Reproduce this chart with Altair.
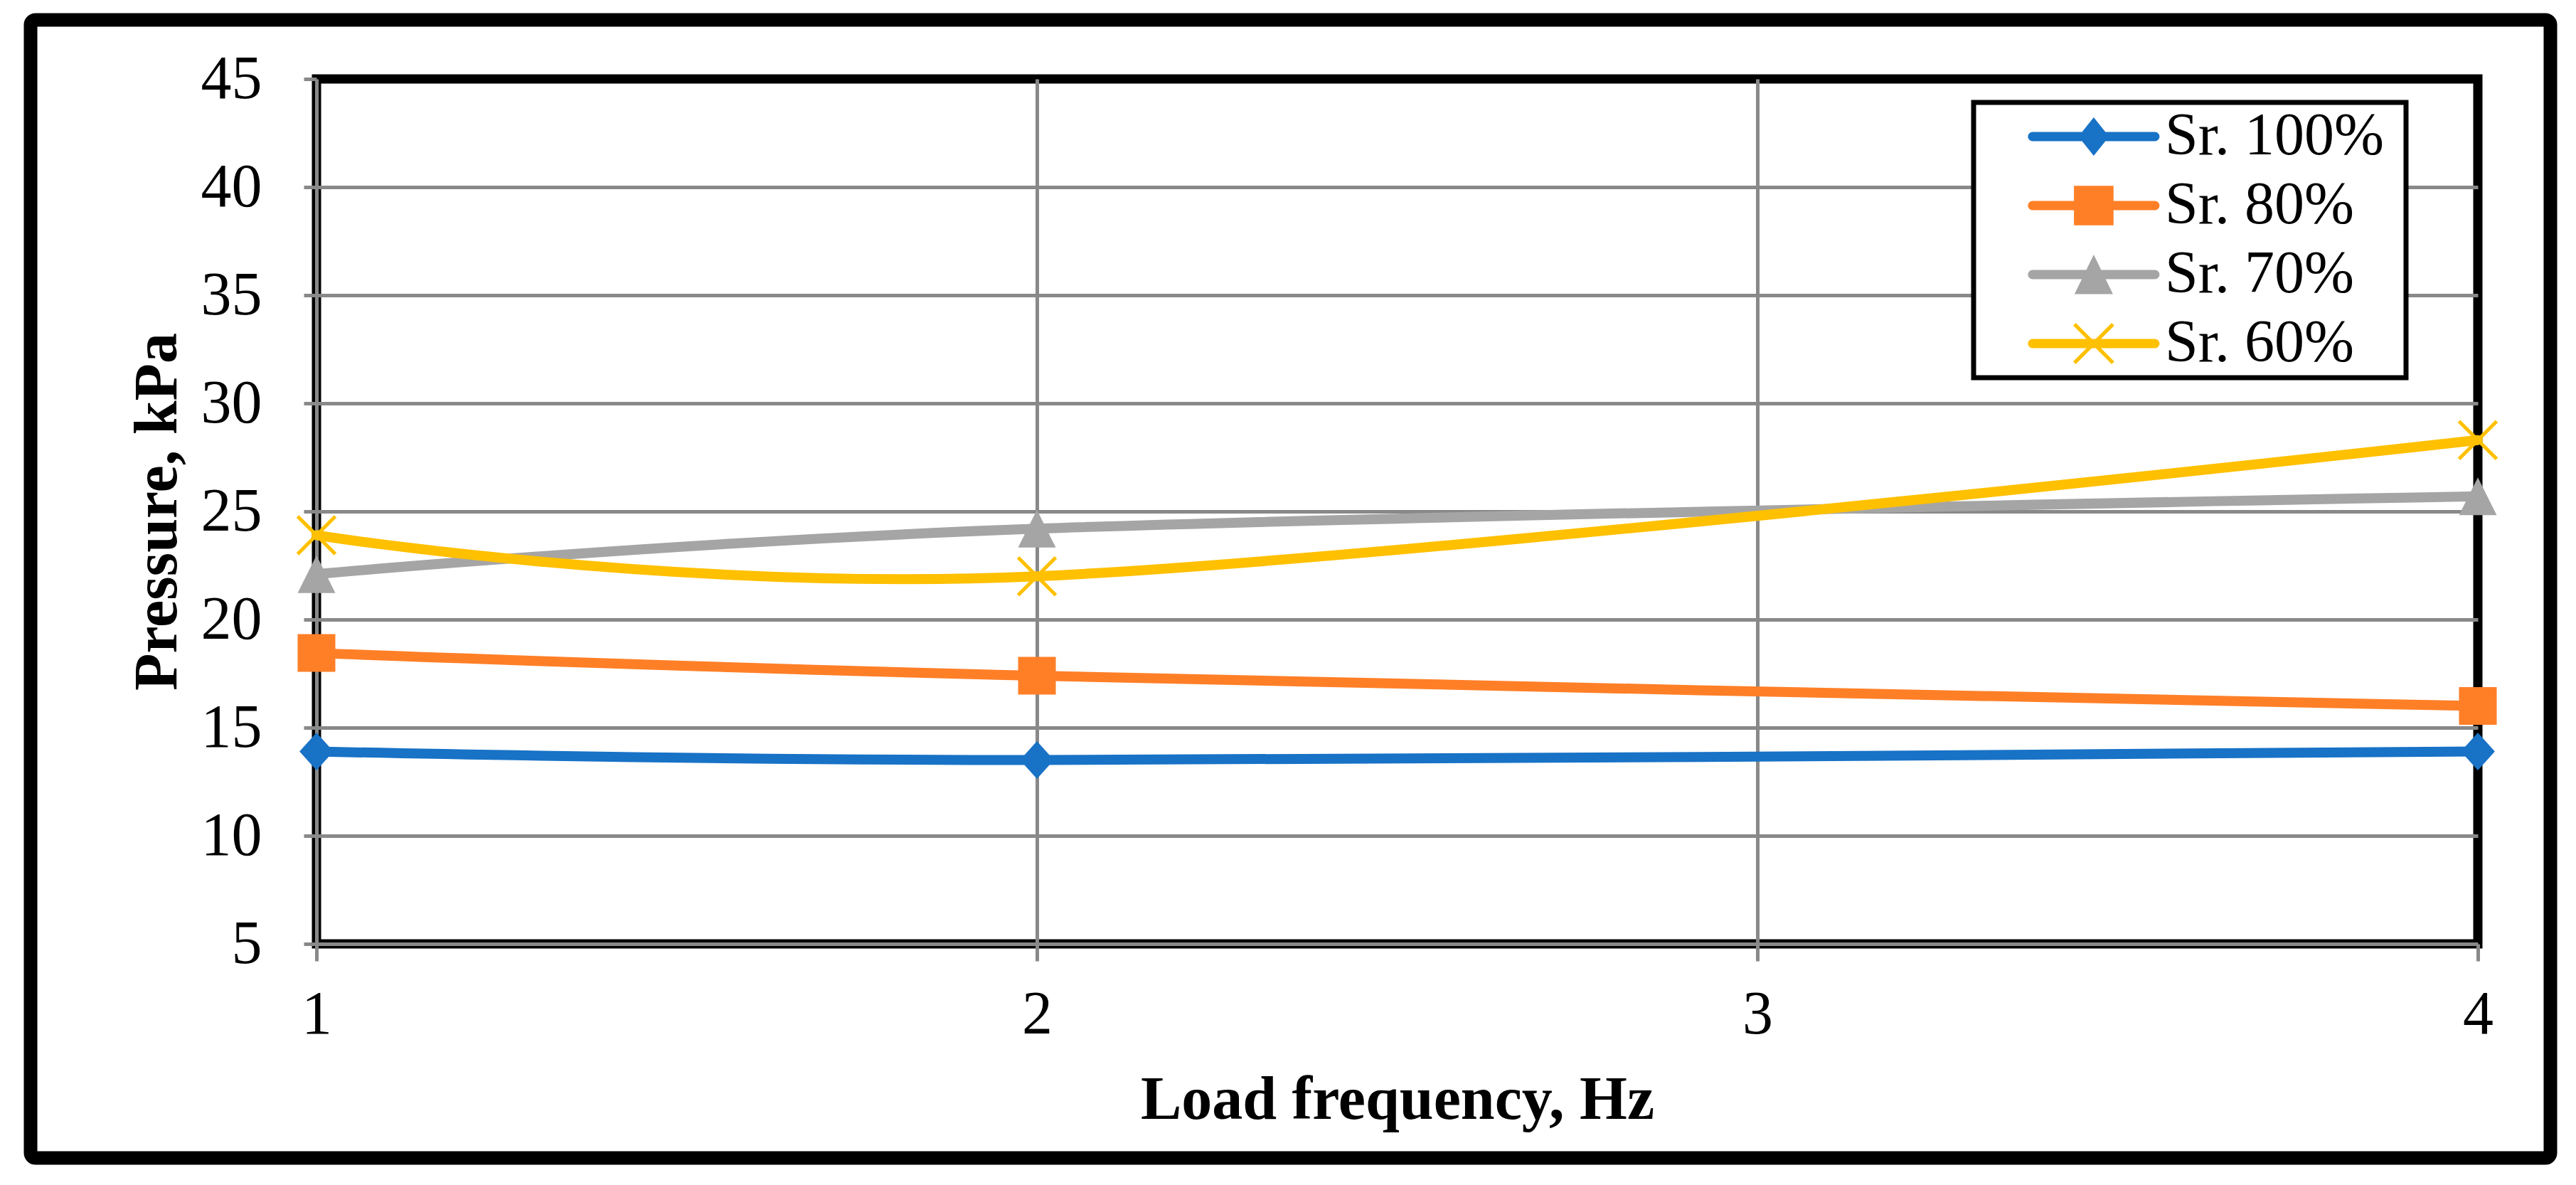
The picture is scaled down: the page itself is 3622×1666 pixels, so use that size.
import math
import altair as alt
import pandas as pd

# ---------------- data ----------------
series = ["Sr. 100%", "Sr. 80%", "Sr. 70%", "Sr. 60%"]
freq = [1, 2, 4]
sr100 = [13.9, 13.5, 13.9]
sr80 = [18.45, 17.4, 16.0]
sr70 = [22.1, 24.2, 25.7]
sr60 = [23.9, 22.0, 28.3]
colors = ["#1872C6", "#FF7F27", "#A5A5A5", "#FFC000"]
x_ticks = [1, 2, 3, 4]
y_ticks = [5, 10, 15, 20, 25, 30, 35, 40, 45]

rows = []
for s, vals in zip(series, [sr100, sr80, sr70, sr60]):
    for f, v in zip(freq, vals):
        rows.append({"series": s, "freq": f, "pressure": v})
df = pd.DataFrame(rows)

# ---------------- marker shapes (custom paths, -1..1 units) ----------------
def fmt(v):
    return f"{v:.3f}".rstrip("0").rstrip(".")

def poly(pts):
    a = 0.0
    n = len(pts)
    for i in range(n):
        x1, y1 = pts[i]
        x2, y2 = pts[(i + 1) % n]
        a += x1 * y2 - x2 * y1
    if a < 0:
        pts = list(reversed(pts))
    return "M" + "L".join(f"{fmt(x)},{fmt(y)}" for x, y in pts) + "Z"

def bar(p, q, t):
    dx, dy = q[0] - p[0], q[1] - p[1]
    ln = math.hypot(dx, dy)
    nx, ny = -dy / ln * t, dx / ln * t
    return poly([(p[0] + nx, p[1] + ny), (q[0] + nx, q[1] + ny),
                 (q[0] - nx, q[1] - ny), (p[0] - nx, p[1] - ny)])

def rounded_line(x0, x1, h, n=8):
    pts = [(x0, -h), (x1, -h)]
    for i in range(1, n):
        a = -math.pi / 2 + math.pi * i / n
        pts.append((x1 + h * math.cos(a), h * math.sin(a)))
    pts += [(x1, h), (x0, h)]
    for i in range(1, n):
        a = math.pi / 2 + math.pi * i / n
        pts.append((x0 + h * math.cos(a), h * math.sin(a)))
    return poly(pts)

def shift(pts, cx):
    return [(x + cx, y) for x, y in pts]

# plot markers
p_diamond = poly([(0, -1), (0.9, 0), (0, 1), (-0.9, 0)])
p_square = poly([(-1, -1), (1, -1), (1, 1), (-1, 1)])
p_triangle = poly([(0, -1), (1, 1), (-1, 1)])
p_x = bar((-1, -1), (1, 1), 0.095) + bar((-1, 1), (1, -1), 0.095)
point_paths = [p_diamond, p_square, p_triangle, p_x]

# legend symbols: line + marker, shifted to the right of the symbol slot
cx = 4.65
anchors = "M-1,0L-0.999,0L-1,0.001Z" + "M21.3,0L21.301,0L21.3,0.001Z"
leg_line = rounded_line(1.34, 7.96, 0.25)
l_diamond = poly(shift([(0, -1.04), (0.83, 0), (0, 1.04), (-0.83, 0)], cx))
l_square = poly(shift([(-1.07, -1.07), (1.07, -1.07), (1.07, 1.07), (-1.07, 1.07)], cx))
l_triangle = poly(shift([(0, -1.08), (1.04, 1.06), (-1.04, 1.06)], cx))
l_x = bar((cx - 1.04, -1.04), (cx + 1.04, 1.04), 0.1) + bar((cx - 1.04, 1.04), (cx + 1.04, -1.04), 0.1)
legend_paths = [anchors + leg_line + m for m in [l_diamond, l_square, l_triangle, l_x]]

# ---------------- layout constants ----------------
W, H = 3039, 1216
FONT = "Liberation Serif"
GRID = "#898989"

x_enc = alt.X(
    "freq:Q",
    scale=alt.Scale(domain=[1, 4], nice=False, zero=False),
    axis=alt.Axis(
        values=x_ticks, format="d", domain=False,
        labelFont=FONT, labelFontSize=86, labelColor="black",
        labelBaseline="alphabetic", labelPadding=101, labelFlush=False,
        tickSize=24, tickWidth=5, tickColor=GRID,
        gridColor=GRID, gridWidth=5,
        gridOpacity={"condition": {"test": "datum.value === 4", "value": 0}, "value": 1},
        title="Load frequency, Hz", titleFont=FONT, titleFontSize=86,
        titleFontWeight="bold", titleColor="black",
        titleX=W / 2, titleY=245, titleAlign="center", titleBaseline="alphabetic",
    ),
)
y_enc = alt.Y(
    "pressure:Q",
    scale=alt.Scale(domain=[5, 45], nice=False, zero=False),
    axis=alt.Axis(
        values=y_ticks, domain=False,
        labelFont=FONT, labelFontSize=86, labelColor="black",
        labelPadding=59, labelFlush=False,
        tickSize=18, tickWidth=5, tickColor=GRID,
        gridColor=GRID, gridWidth=5,
        gridOpacity={"condition": {"test": "datum.value === 45", "value": 0}, "value": 1},
        title="Pressure, kPa", titleFont=FONT, titleFontSize=86,
        titleFontWeight="bold", titleColor="black",
        titleX=-198, titleY=H / 2, titleAlign="center", titleBaseline="alphabetic",
        titleAngle=270,
    ),
)

base = alt.Chart(df)

# outer frame (decoration)
frame = alt.Chart(pd.DataFrame({"k": [0]})).mark_rect(
    fillOpacity=0, stroke="black", strokeWidth=19, cornerRadius=7
).encode(x=alt.value(-402), x2=alt.value(3141), y=alt.value(-83), y2=alt.value(1517))

line_layers = []
for s, c in zip(series, colors):
    line_layers.append(
        base.transform_filter(alt.datum.series == s)
        .mark_line(interpolate="cardinal", strokeWidth=14, strokeCap="round", strokeJoin="round")
        .encode(x=x_enc, y=y_enc, color=alt.value(c))
    )

points = base.mark_point(filled=True, size=2809, opacity=1, strokeWidth=0).encode(
    x=x_enc, y=y_enc,
    color=alt.Color("series:N", scale=alt.Scale(domain=series, range=colors), legend=None),
    shape=alt.Shape("series:N", scale=alt.Scale(domain=series, range=point_paths), legend=None),
)

leg = alt.Legend(
    title=None, orient="none", legendX=2330, legendY=33,
    padding=6, rowPadding=13, labelOffset=179, labelLimit=0,
    labelFont=FONT, labelFontSize=84, labelColor="black",
    symbolSize=2704, symbolStrokeWidth=0, symbolOpacity=1,
    strokeColor="black", fillColor="white",
)
legend_layer = base.transform_filter("false").mark_point(filled=True, size=2704, opacity=1).encode(
    color=alt.Color("series:N", scale=alt.Scale(domain=series, range=colors), legend=leg),
    shape=alt.Shape("series:N", scale=alt.Scale(domain=series, range=legend_paths), legend=leg),
)

chart = (
    alt.layer(frame, *line_layers, points, legend_layer)
    .resolve_scale(color="independent", shape="independent")
    .properties(
        width=W, height=H,
        autosize=alt.AutoSizeParams(type="none"),
        padding={"left": 437, "top": 103, "right": 120, "bottom": 320},
        background="white",
    )
    .configure_view(stroke="black", strokeWidth=13)
    .configure_legend(strokeWidth=7)
)

chart.save("out.html", embed_options={"renderer": "svg", "actions": False})
